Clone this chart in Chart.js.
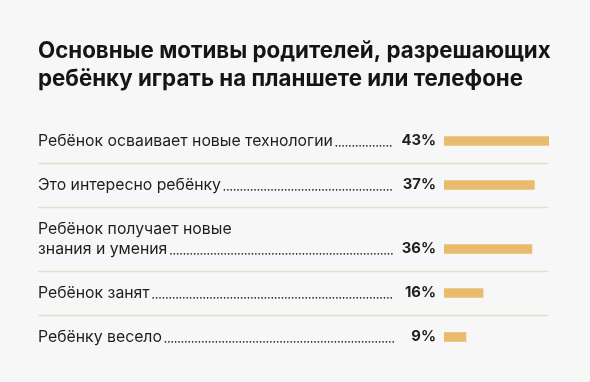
<!doctype html>
<html lang="ru">
  <head>
    <meta charset="UTF-8" />
    <title>Мотивы родителей</title>
    <script src="https://cdn.jsdelivr.net/npm/chart.js"></script>
    <style>
      body { margin: 0; background: #f7f7f7; }
      .chart-container { position: relative; width: 590px; height: 382px; }
    </style>
  </head>
  <body>
    <div class="chart-container">
      <canvas id="motives"></canvas>
    </div>
    <script>
      const titleLines = [
        "Основные мотивы родителей, разрешающих",
        "ребёнку играть на планшете или телефоне",
      ];
      const categories = [
        ["Ребёнок осваивает новые технологии"],
        ["Это интересно ребёнку"],
        ["Ребёнок получает новые", "знания и умения"],
        ["Ребёнок занят"],
        ["Ребёнку весело"],
      ];
      const values = [43, 37, 36, 16, 9];
      const valueLabels = ["43%", "37%", "36%", "16%", "9%"];

      // rows are one unit apart, each extra label line adds a bit more
      const extraLine = 20 / 44;
      const positions = [];
      let pos = 0;
      categories.forEach((lines) => {
        pos += (lines.length - 1) * extraLine;
        positions.push(pos);
        pos += 1;
      });

      const FONT = "Inter, 'Open Sans', sans-serif";
      const LEFT = 38;
      const LEADER_END = 394;
      const VALUE_RIGHT = 436;
      const RULE_RIGHT = 548;

      const rowText = {
        id: "rowText",
        afterDatasetsDraw(chart) {
          const ctx = chart.ctx;
          const bars = chart.getDatasetMeta(0).data;
          ctx.save();

          // title
          ctx.fillStyle = "#151515";
          ctx.font = "bold 22.3px " + FONT;
          ctx.textBaseline = "middle";
          ctx.textAlign = "left";
          titleLines.forEach((t, i) => ctx.fillText(t, LEFT, 51 + i * 28));

          bars.forEach((bar, i) => {
            const y = bar.y;
            const lines = categories[i];
            ctx.fillStyle = "#1e1e1e";
            ctx.font = "15.8px " + FONT;
            ctx.textAlign = "left";
            ctx.textBaseline = "middle";
            lines.forEach((l, j) => {
              ctx.fillText(l, LEFT, y - (lines.length - 1 - j) * 20);
            });
            // dotted leader
            const w = ctx.measureText(lines[lines.length - 1]).width;
            for (let x = LEFT + w + 3.5; x <= LEADER_END; x += 3.4) {
              ctx.beginPath();
              ctx.arc(x, y + 4.8, 0.85, 0, Math.PI * 2);
              ctx.fill();
            }
            // value
            ctx.font = "bold 14.8px " + FONT;
            ctx.textAlign = "right";
            ctx.fillText(valueLabels[i], VALUE_RIGHT, y);

            // separator below the row
            if (i < bars.length - 1) {
              const next = bars[i + 1];
              const nextTop = next.y - (categories[i + 1].length - 1) * 20;
              const sy = Math.round((y + nextTop) / 2) + 0.5;
              ctx.strokeStyle = "#e2dfcd";
              ctx.lineWidth = 1.5;
              ctx.beginPath();
              ctx.moveTo(LEFT, sy);
              ctx.lineTo(RULE_RIGHT, sy);
              ctx.stroke();
            }
          });
          ctx.restore();
        },
      };

      const ctx = document.getElementById("motives").getContext("2d");
      new Chart(ctx, {
        type: "bar",
        data: {
          datasets: [
            {
              data: values.map((v, i) => ({ x: v, y: positions[i] })),
              backgroundColor: "#e9bc6d",
              barThickness: 9,
            },
          ],
        },
        plugins: [rowText],
        options: {
          indexAxis: "y",
          responsive: true,
          maintainAspectRatio: false,
          animation: false,
          layout: { padding: { left: 444, right: 41, top: 119, bottom: 23 } },
          scales: {
            x: { type: "linear", min: 0, max: 43, display: false },
            y: {
              type: "linear",
              min: -0.5,
              max: positions[positions.length - 1] + 0.5,
              reverse: true,
              offset: false,
              display: false,
            },
          },
          plugins: {
            legend: { display: false },
            tooltip: { enabled: false },
          },
        },
      });
    </script>
  </body>
</html>
